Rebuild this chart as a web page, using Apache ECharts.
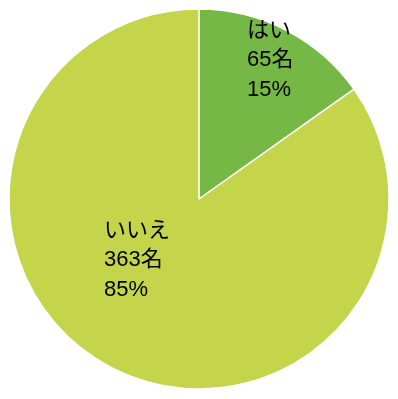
<!DOCTYPE html>
<html><head><meta charset="utf-8">
<script src="https://cdn.jsdelivr.net/npm/echarts@6/dist/echarts.min.js"></script>
<style>html,body{margin:0;padding:0;background:#fff}#c{width:398px;height:399px}</style>
</head><body><div id="c"></div>
<script>
const categories = ['はい', 'いいえ'];
const counts = [65, 363];
const colors = ['#76b846', '#c4d44b'];
const labelAnchors = [[247, 60], [104, 260]];

const chart = echarts.init(document.getElementById('c'), null, {renderer: 'canvas'});
chart.setOption({
  animation: false,
  series: [{
    type: 'pie',
    center: [199, 199],
    radius: [0, 190],
    startAngle: 90,
    clockwise: true,
    percentPrecision: 0,
    data: categories.map((c, i) => ({name: c, value: counts[i], itemStyle: {color: colors[i]}})),
    itemStyle: {borderColor: '#ffffff', borderWidth: 1.5},
    label: {
      show: true,
      position: 'inside',
      formatter: '{b}\n{c}名\n{d}%',
      color: '#000',
      fontSize: 22,
      lineHeight: 29.5,
      align: 'left',
      fontFamily: "'Liberation Sans', Arial, 'Noto Sans CJK JP', sans-serif"
    },
    labelLine: {show: false},
    labelLayout: function (p) {
      const a = labelAnchors[p.dataIndex];
      return {x: a[0], y: a[1], align: 'left', verticalAlign: 'middle'};
    },
    emphasis: {disabled: true}
  }]
});
</script></body></html>
